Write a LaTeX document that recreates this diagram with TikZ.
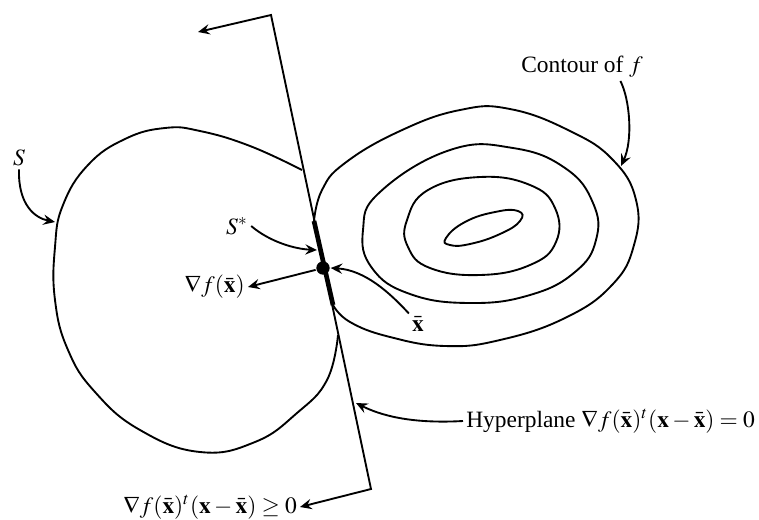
\documentclass[tikz,border=0pt]{standalone}
\usepackage{amsmath,amssymb}
\usepackage{mathptmx}
\usepackage{fontspec}
\setmainfont{Liberation Serif}
\usepackage{tikz}
\usetikzlibrary{arrows.meta}

\begin{document}
\begin{tikzpicture}[x=0.015cm, y=-0.015cm, line width=0.8pt,
		font=\fontsize{10}{12}\selectfont,
		>={Stealth[length=5pt,width=4.4pt,inset=1.8pt]},
		lbl/.style={inner sep=1pt},
		dot/.style={circle, fill, inner sep=0pt, minimum size=0.2cm},
		curve/.style={smooth, tension=0.75}]
	\useasboundingbox (0,0) rectangle (759,519);
	\coordinate (ht) at (271,15);
	\coordinate (hb) at (371,489);
	\coordinate (ta) at (198,32);
	\coordinate (sa) at (55,222);
	\coordinate (sst) at (317,250);
	\coordinate (ct) at (621,166);
	\coordinate (hpt) at (356,403);
	\coordinate (s1) at (314,221);
	\coordinate (s2) at (333,305);
	% the set S
	\draw plot[curve] coordinates {(302,170) (250,146) (200,131) (165,128)
		(125,139) (88,165) (63,205) (55,247) (55,300) (68,350)
		(95,392) (140,430) (200,452) (255,442) (297,413)
		(327,380) (338,335)};
	% contours of f
	\draw plot[curve] coordinates {(314,221) (322,190) (345,163) (400,131)
		(460,110) (510,109) (570,131) (613,160) (636,200) (634,245)
		(612,285) (565,318) (500,340) (445,346) (390,337) (350,322)
		(333,305)};
	\draw plot[smooth cycle, tension=0.75] coordinates {(450,150) (513,148) (565,168)
		(593,203) (596,240) (575,272) (530,295) (470,303) (410,294)
		(372,268) (363,230) (380,192)};
	\draw plot[smooth cycle, tension=0.75] coordinates {(480,177) (530,185) (555,208)
		(556,242) (530,265) (480,275) (430,268) (408,247) (407,220) (428,190)};
	\draw plot[smooth cycle, tension=0.8] coordinates {(446,238) (465,222) (495,212)
		(518,211) (520,221) (500,234) (470,244) (450,245)};
	% labels
	\node[lbl] (S) at (19,158) {$S$};
	\node[lbl] (Sstar) at (237,226) {$S^*$};
	\node[lbl, anchor=east] (grad) at (248,287) {$\nabla f(\bar{\mathbf{x}})$};
	\node[lbl] (xlab) at (418,324) {$\bar{\mathbf{x}}$};
	\node[lbl] (cont) at (582,67) {Contour of $f$};
	\node[lbl, anchor=west] (hyp) at (463,421)
		{Hyperplane $\nabla f(\bar{\mathbf{x}})^t(\mathbf{x}-\bar{\mathbf{x}})=0$};
	\node[lbl, anchor=east] (geq) at (300,507)
		{$\nabla f(\bar{\mathbf{x}})^t(\mathbf{x}-\bar{\mathbf{x}})\ge 0$};
	% hyperplane and optimal set
	\draw[<->] (ta) -- (ht) -- (hb) -- (geq.east);
	\draw[line width=2pt] (s1) -- (s2);
	\node[dot] (xbar) at (323,268) {};
	% arrows
	\draw[->] (xbar) -- (grad.east);
	\draw[->] (S.south) .. controls (18,205) and (35,218) .. (sa);
	\draw[->] (Sstar.east) .. controls (270,242) and (295,249) .. (sst);
	\draw[->] (xlab.north west) .. controls (390,293) and (365,270) .. (xbar.east);
	\draw[->] (cont.-20) .. controls (630,100) and (633,140) .. (ct);
	\draw[->] (hyp.west) .. controls (410,424) and (380,415) .. (hpt);
\end{tikzpicture}
\end{document}
